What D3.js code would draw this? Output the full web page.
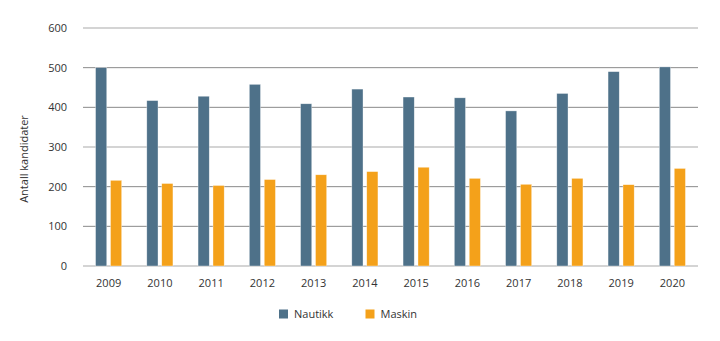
<!DOCTYPE html>
<html>
<head>
<meta charset="utf-8">
<script src="https://cdn.jsdelivr.net/npm/d3@7"></script>
<style>
  body { margin: 0; background: #fff; }
  text { font-family: "Open Sans", sans-serif; fill: #333; }
</style>
</head>
<body>
<div id="chart"></div>
<script>
// data
var years = ["2009","2010","2011","2012","2013","2014","2015","2016","2017","2018","2019","2020"];
var seriesNames = ["Nautikk", "Maskin"];
var nautikk = [500, 417, 428, 458, 409, 446, 426, 424, 391, 435, 490, 502];
var maskin  = [216, 208, 203, 218, 230, 238, 249, 221, 206, 221, 205, 246];
var yTicks = [0, 100, 200, 300, 400, 500, 600];

var colors = ["#4e7189", "#f4a11a"];

var margin = {top: 28, right: 22, bottom: 75, left: 83},
    width = 720 - margin.left - margin.right,
    height = 341 - margin.top - margin.bottom;

var svg = d3.select("#chart")
  .append("svg")
    .attr("width", 720)
    .attr("height", 341)
  .append("g")
    .attr("transform", "translate(" + margin.left + "," + margin.top + ")");

var data = years.map(function(y, i) {
  return {year: y, Nautikk: nautikk[i], Maskin: maskin[i]};
});

// scales
var x0 = d3.scaleBand()
  .domain(years)
  .range([0, width])
  .paddingInner(0.49)
  .paddingOuter(0.245);

var x1 = d3.scaleBand()
  .domain(seriesNames)
  .range([0, x0.bandwidth()])
  .paddingInner(0.25);

var y = d3.scaleLinear()
  .domain([0, 600])
  .range([height, 0]);

var color = d3.scaleOrdinal().domain(seriesNames).range(colors);

// gridlines (600, 300 and 0 are drawn lighter and thicker)
svg.append("g")
  .selectAll("line")
  .data(yTicks)
  .enter().append("line")
    .attr("x1", 0)
    .attr("x2", width)
    .attr("y1", function(d) { return y(d); })
    .attr("y2", function(d) { return y(d); })
    .attr("stroke", function(d) { return d % 300 === 0 ? "#c6c6c6" : "#8a8a8a"; })
    .attr("stroke-width", function(d) { return d % 300 === 0 ? 1.5 : 1; });

// y axis labels
var yAxis = svg.append("g")
  .call(d3.axisLeft(y).tickValues(yTicks).tickSize(0).tickPadding(16));
yAxis.select(".domain").remove();
yAxis.selectAll("text")
  .style("font-size", "11px")
  .style("font-family", "Open Sans, sans-serif")
  .attr("fill", "#333");

// x axis labels
var xAxis = svg.append("g")
  .attr("transform", "translate(0," + height + ")")
  .call(d3.axisBottom(x0).tickSize(0).tickPadding(13));
xAxis.select(".domain").remove();
xAxis.selectAll("text")
  .style("font-size", "11px")
  .style("font-family", "Open Sans, sans-serif")
  .attr("fill", "#333");

// bars
var groups = svg.append("g")
  .selectAll("g")
  .data(data)
  .enter().append("g")
    .attr("transform", function(d) { return "translate(" + x0(d.year) + ",0)"; });

groups.selectAll("rect")
  .data(function(d) { return seriesNames.map(function(k) { return {key: k, value: d[k]}; }); })
  .enter().append("rect")
    .attr("x", function(d) { return x1(d.key); })
    .attr("y", function(d) { return y(d.value); })
    .attr("width", x1.bandwidth())
    .attr("height", function(d) { return height - y(d.value); })
    .attr("fill", function(d) { return color(d.key); })
    .attr("stroke", "#ffffff")
    .attr("stroke-opacity", 0.6)
    .attr("stroke-width", 0.6);

// y axis title
svg.append("text")
  .attr("transform", "translate(" + (-55) + "," + (height / 2 + 12) + ") rotate(-90)")
  .attr("text-anchor", "middle")
  .style("font-size", "11px")
  .text("Antall kandidater");

// legend
var legend = svg.append("g")
  .selectAll("g")
  .data(seriesNames)
  .enter().append("g")
    .attr("transform", function(d, i) { return "translate(" + (196 + i * 86.5) + "," + (height + 43.5) + ")"; });

legend.append("rect")
  .attr("width", 9)
  .attr("height", 9)
  .attr("fill", color);

legend.append("text")
  .attr("x", 15)
  .attr("y", 8.5)
  .style("font-size", "11px")
  .text(function(d) { return d; });
</script>
</body>
</html>
